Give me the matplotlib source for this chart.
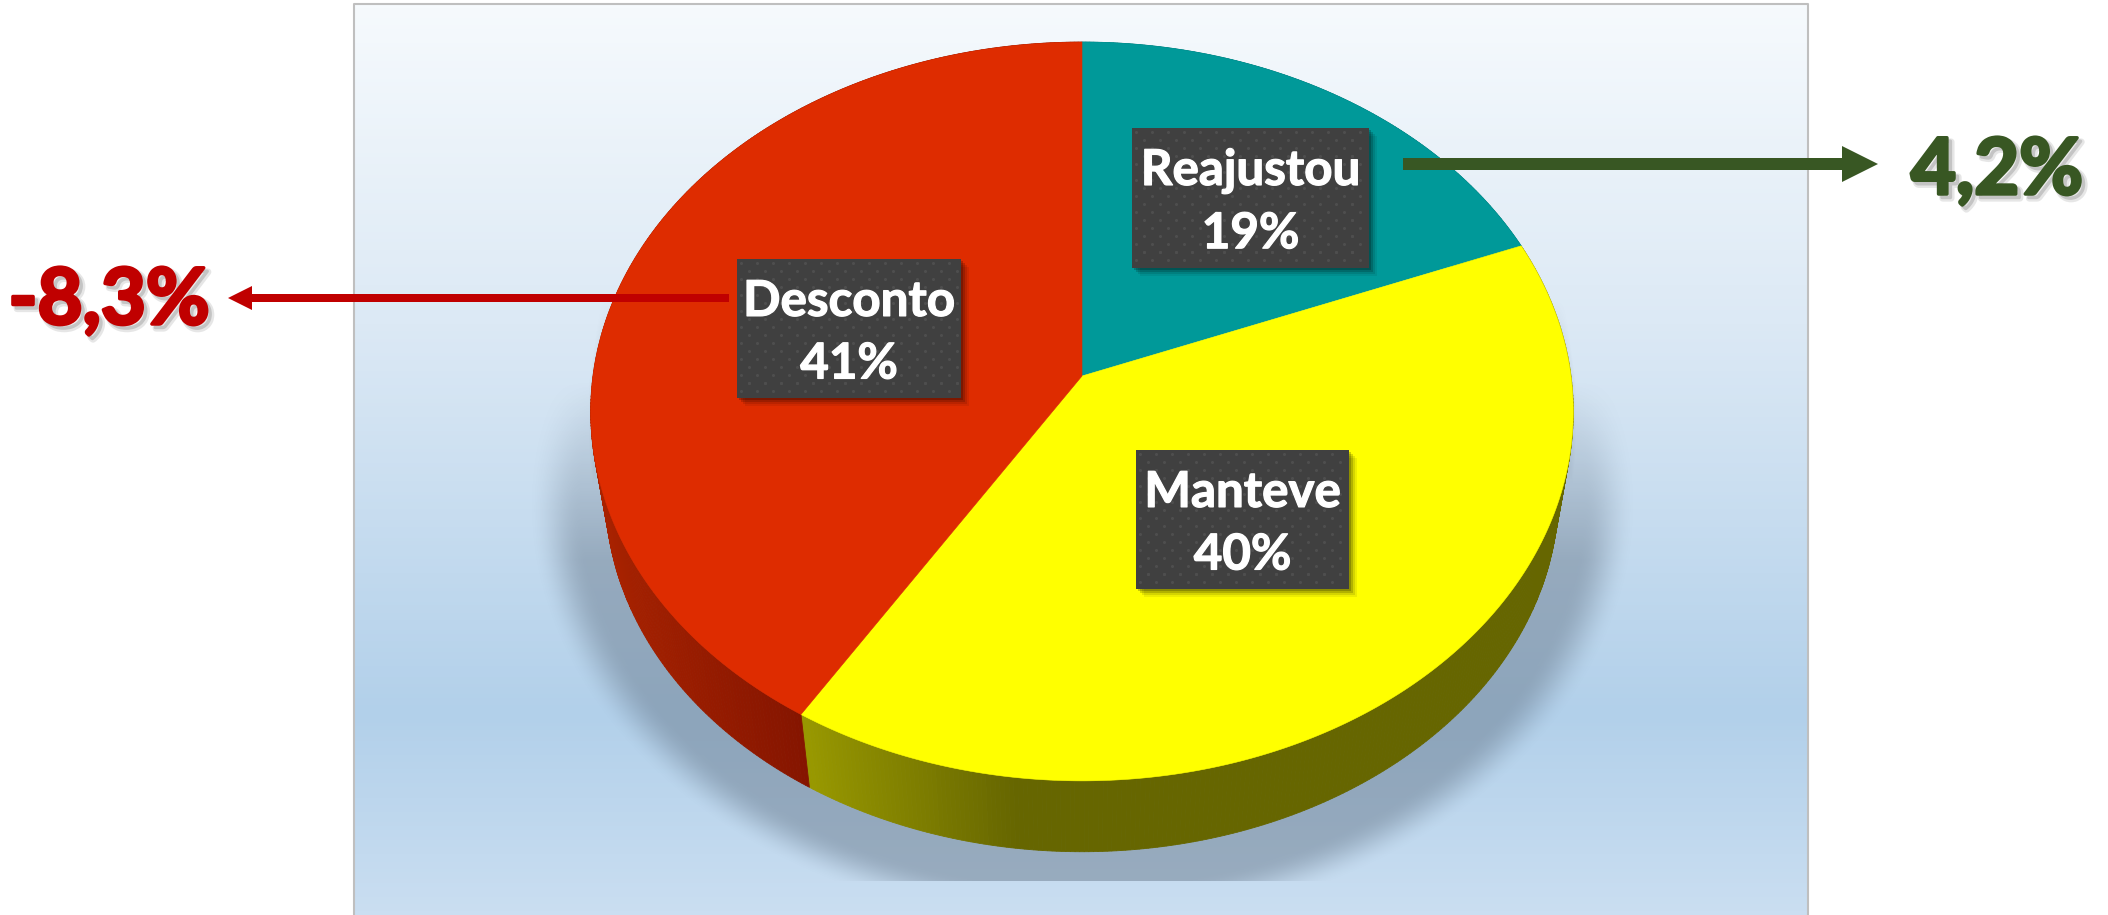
import numpy as np
import matplotlib
matplotlib.use("Agg")
import matplotlib.pyplot as plt
from matplotlib.patches import Polygon, Rectangle, FancyArrow
from matplotlib.colors import LinearSegmentedColormap, to_rgb
import matplotlib.patheffects as pe

# ---- data ----
categories = ["Reajustou", "Manteve", "Desconto"]
shares = [19.0, 39.85, 41.15]
share_labels = ["19%", "40%", "41%"]
top_colors = ["#009999", "#FFFF00", "#DE2C00"]
side_light = ["#009999", "#999900", "#851500"]
side_dark = ["#007070", "#666600", "#A82200"]
callout_up = "4,2%"
callout_down = "-8,3%"

W, H = 2108, 915
plt.rcParams["font.family"] = ["Lato", "DejaVu Sans"]
fig = plt.figure(figsize=(W / 100, H / 100), dpi=100)
ax = fig.add_axes([0, 0, 1, 1])
ax.set_xlim(0, W)
ax.set_ylim(H, 0)
ax.axis("off")

# ---- panel ----
PX0, PX1, PY0, PY1 = 354, 1808, 4, 915
stops = [(0.0, "#F6FAFD"), (0.35, "#DCE9F5"), (0.78, "#B2D0EA"), (1.0, "#CADEF1")]
cmap = LinearSegmentedColormap.from_list("bg", stops)
ax.imshow(np.linspace(0, 1, 256)[:, None], cmap=cmap, extent=(PX0, PX1, PY1, PY0),
          aspect="auto", zorder=0)
ax.plot([PX0, PX0, PX1, PX1], [PY1, PY0, PY0, PY1], color="#BFBFBF", lw=1.5, zorder=1)

# ---- soft shadow under the pie ----
yy, xx = np.mgrid[0:H, 0:W]
cx, vy = 1082.0, 376.0
d = np.sqrt(((xx - cx) / 482.0) ** 2 + ((yy - 500.0) / 372.0) ** 2)
soft = np.clip((1.15 - d) / 0.11, 0, 1)
soft = soft * soft * (3 - 2 * soft)
fade = np.clip((yy - 380) / 180.0, 0, 1)
alpha = 0.44 * soft * fade
# tapered reflection flanking the pie
edge = 482 + (yy - 300) * 0.143
wedge = np.clip((edge - np.abs(xx - cx)) / 18.0, 0, 1) * (yy > 300)
pale = 0.32 * wedge * np.clip((yy - 300) / 60.0, 0, 1) * np.clip((640 - yy) / 200.0, 0, 1)
alpha = np.maximum(alpha, pale)
alpha[yy > 880] = 0
shadow = np.zeros((H, W, 4))
shadow[..., :3] = to_rgb("#5E6E80")
shadow[..., 3] = alpha
ax.imshow(shadow, extent=(0, W, H, 0), aspect="auto", zorder=1.5, interpolation="bilinear")
ax.set_xlim(0, W)
ax.set_ylim(H, 0)

# ---- perspective pie geometry ----
A, B, K = 489.0, 366.0, 0.096
DEPTH_S, DEPTH_Y = 0.97, 459.0


def rim(theta, scale=1.0, y0=vy):
    u, v = np.sin(theta), np.cos(theta)
    w = 1 + K * v
    return cx + scale * A * u / w, y0 - scale * B * v / w


fractions = np.array(shares, dtype=float) / np.sum(shares)
edges = np.concatenate([[0], np.cumsum(fractions)]) * 2 * np.pi

# side wall
for i in range(len(shares)):
    n = max(int((edges[i + 1] - edges[i]) / np.radians(0.5)), 2)
    t = np.linspace(edges[i], edges[i + 1], n + 1)
    c0, c1 = np.array(to_rgb(side_light[i])), np.array(to_rgb(side_dark[i]))
    for a, b in zip(t[:-1], t[1:]):
        xt0, yt0 = rim(a)
        xt1, yt1 = rim(b)
        xb0, yb0 = rim(a, DEPTH_S, DEPTH_Y)
        xb1, yb1 = rim(b, DEPTH_S, DEPTH_Y)
        xm = (xb0 + xb1) / 2
        if i == 1:
            f = np.clip((xm - 809) / 208.0, 0, 1)
            col = c0 + (c1 - c0) * f
        elif i == 2:
            f = np.clip((809 - xm) / 195.0, 0, 1)
            col = c0 + (c1 - c0) * f
        else:
            col = c1
        ax.add_patch(Polygon([(xt0, yt0), (xt1, yt1), (xb1, yb1), (xb0, yb0)],
                             closed=True, fc=col, ec=col, lw=0.6, zorder=2))

# top face
for i in range(len(shares)):
    t = np.linspace(edges[i], edges[i + 1], 300)
    xs, ys = rim(t)
    pts = [(cx, vy)] + list(zip(xs, ys))
    ax.add_patch(Polygon(pts, closed=True, fc=top_colors[i], ec=top_colors[i], lw=0.4, zorder=3))

# ---- label boxes ----
boxes = [(1132, 128, 237, 140), (1136, 450, 213, 139), (737, 259, 224, 139)]
thick = [pe.withStroke(linewidth=0.9, foreground="white")]
for (x, y, w, h), name, pct in zip(boxes, categories, share_labels):
    for off, a in [(9, 0.07), (7, 0.10), (5, 0.16), (3, 0.2)]:
        ax.add_patch(Rectangle((x + off - 1, y + off - 1), w, h, fc="black", ec="none", alpha=a, zorder=4))
    ax.add_patch(Rectangle((x, y), w, h, fc="#404040", ec="none", zorder=5))
    # dotted fabric texture
    gx, gy = np.meshgrid(np.arange(x + 4, x + w - 2, 16), np.arange(y + 4, y + h - 2, 16))
    ax.scatter(np.r_[gx.ravel(), gx.ravel() + 8 - (gx.ravel() + 8 > x + w - 2) * 16],
               np.r_[gy.ravel(), gy.ravel() + 8 - (gy.ravel() + 8 > y + h - 2) * 16],
               s=5, c="#4E4E4E", linewidths=0, zorder=5.1)
    ax.text(x + w / 2, y + 0.305 * h, name, color="white", fontsize=35.5, fontweight="bold",
            ha="center", va="center", zorder=6, path_effects=thick)
    ax.text(x + w / 2, y + 0.755 * h, pct, color="white", fontsize=35.5, fontweight="bold",
            ha="center", va="center", zorder=6, path_effects=thick)

# ---- call-outs ----
GREEN, RED = "#385723", "#C00000"
ax.add_patch(FancyArrow(1403, 164, 475, 0, width=12, head_width=36, head_length=36,
                        length_includes_head=True, fc=GREEN, ec=GREEN, lw=0, zorder=7))
ax.add_patch(FancyArrow(729, 298, -501, 0, width=8, head_width=24, head_length=24,
                        length_includes_head=True, fc=RED, ec=RED, lw=0, zorder=7))


def big(colour):
    return [pe.SimpleLineShadow(offset=(3, -3), shadow_color="#777777", alpha=0.18, linewidth=5),
            pe.SimpleLineShadow(offset=(2.5, -2.5), shadow_color="#777777", alpha=0.3, linewidth=2.5),
            pe.withStroke(linewidth=2.5, foreground=colour)]


ax.text(1997, 172, callout_up, color=GREEN, fontsize=56, fontweight="bold",
        ha="center", va="center", zorder=7, path_effects=big(GREEN))
ax.text(109, 302, callout_down, color=RED, fontsize=56, fontweight="bold",
        ha="center", va="center", zorder=7, path_effects=big(RED))

fig.savefig("out.png", dpi=100, facecolor="white")
